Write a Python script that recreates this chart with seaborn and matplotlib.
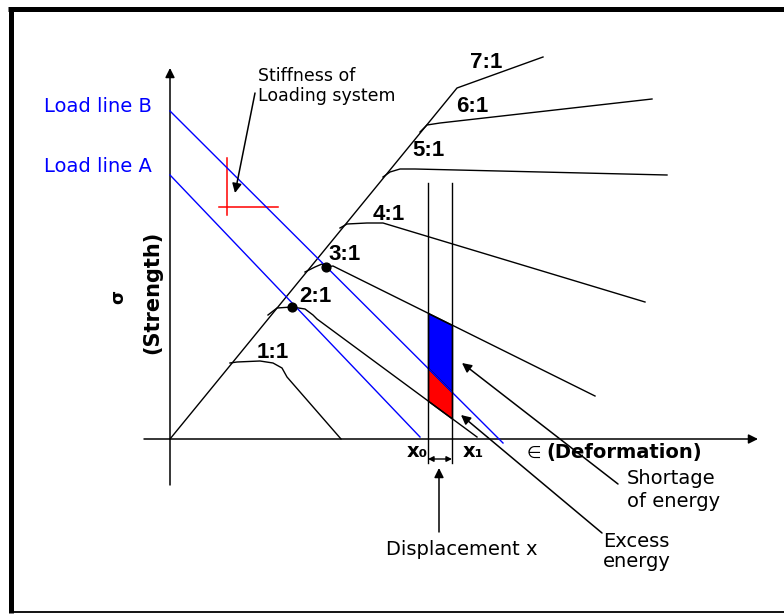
import numpy as np
import pandas as pd
import matplotlib
matplotlib.use("Agg")
import matplotlib.pyplot as plt
import seaborn as sns

# drawing units: eps = deformation, sig = strength (origin at axis crossing)
env_eps = [0, 287, 373]          # peak envelope, last segment is the 7:1 branch
env_sig = [0, 351, 382]

b11_eps = [60, 67, 90, 103, 112, 117, 171]
b11_sig = [76, 77, 78, 76, 71, 62, 0]
b21_eps = [98, 107, 122, 135, 143, 147, 307]
b21_sig = [124, 131, 132, 130, 124, 120, 2]
b31_eps = [135, 145, 152, 156, 163, 425]
b31_sig = [167, 172, 175, 172, 173, 43]
b41_eps = [170, 177, 197, 213, 475]
b41_sig = [211, 215, 216, 216, 137]
b51_eps = [213, 220, 230, 245, 497]
b51_sig = [262, 267, 270, 270, 264]
b61_eps = [250, 257, 270, 482]
b61_sig = [307, 314, 316, 340]

ratio_labels = ["1:1", "2:1", "3:1", "4:1", "5:1", "6:1", "7:1"]
ratio_eps = [103, 145, 175, 219, 258, 302, 316]
ratio_sig = [86, 143, 185, 224, 289, 332, 376]

loadA_eps = [0, 250]
loadA_sig = [264, 2]
loadB_eps = [0, 333]
loadB_sig = [328, -4]

dot_eps = [122, 156]
dot_sig = [132, 172]

x0, x1 = 258, 282

curves = {"env": (env_eps, env_sig), "1:1": (b11_eps, b11_sig),
          "2:1": (b21_eps, b21_sig), "3:1": (b31_eps, b31_sig),
          "4:1": (b41_eps, b41_sig), "5:1": (b51_eps, b51_sig),
          "6:1": (b61_eps, b61_sig)}
df = pd.concat([pd.DataFrame({"eps": e, "sig": s, "curve": k})
                for k, (e, s) in curves.items()], ignore_index=True)
loads = pd.concat([pd.DataFrame({"eps": loadA_eps, "sig": loadA_sig, "curve": "A"}),
                   pd.DataFrame({"eps": loadB_eps, "sig": loadB_sig, "curve": "B"})],
                  ignore_index=True)

fig = plt.figure(figsize=(7.84, 6.14), dpi=100)
ax = fig.add_axes([0, 0, 1, 1])

# frame
ax.plot([-159.5, -159.5], [431, -174], color="k", lw=3.6, solid_capstyle="butt")
ax.plot([-162, 614], [430.5, 430.5], color="k", lw=3.6, solid_capstyle="butt")
ax.plot([-159.5, 614], [-173.3, -173.3], color="k", lw=1.3)

# axes with arrows
arr = dict(arrowstyle="-|>", color="k", lw=1.1, mutation_scale=14, shrinkA=0, shrinkB=0)
ax.annotate("", xy=(0, 371), xytext=(0, -46), arrowprops=arr)
ax.annotate("", xy=(588, 0), xytext=(-26, 0), arrowprops=arr)

# energy areas
xs = np.linspace(x0, x1, 30)
lb = np.interp(xs, loadB_eps, loadB_sig)
top = np.interp(xs, b31_eps, b31_sig)
bot = np.interp(xs, b21_eps, b21_sig)
ax.fill_between(xs, lb, top, color="#0000ff", edgecolor="k", lw=1, zorder=2)
ax.fill_between(xs, bot, lb, color="#ff0000", edgecolor="k", lw=1, zorder=2)

sns.lineplot(data=df, x="eps", y="sig", units="curve", estimator=None, sort=False,
             color="k", lw=1.0, ax=ax, zorder=3)
sns.lineplot(data=loads, x="eps", y="sig", units="curve", estimator=None, sort=False,
             color="#0000ff", lw=1.0, ax=ax, zorder=3)
ax.scatter(dot_eps, dot_sig, s=40, color="k", zorder=4)
ax.set_xlim(-170, 614)
ax.set_ylim(-175, 439)
ax.axis("off")

# x0 / x1 verticals
for xv in (x0, x1):
    ax.plot([xv, xv], [256, -24], color="k", lw=1.0, zorder=3)
ax.annotate("", xy=(x0, -20), xytext=(x1, -20),
            arrowprops=dict(arrowstyle="<|-|>", color="k", lw=1, mutation_scale=8,
                            shrinkA=0, shrinkB=0))
ax.annotate("", xy=(269, -29), xytext=(269, -93), arrowprops=arr)

# stiffness cross
ax.plot([57, 57], [281, 224], color="#ff0000", lw=1.1)
ax.plot([49, 108], [232, 232], color="#ff0000", lw=1.1)
ax.annotate("", xy=(65, 246), xytext=(85, 346), arrowprops=arr)

# pointer arrows
ax.annotate("", xy=(292, 76), xytext=(448, -45), arrowprops=arr)
ax.annotate("", xy=(291, 24), xytext=(432, -94), arrowprops=arr)

# labels
for lab, e, s in zip(ratio_labels, ratio_eps, ratio_sig):
    ax.text(e, s, lab, ha="center", va="center", fontsize=16, fontweight="bold",
            family="Liberation Sans")

reg = dict(family="DejaVu Sans", va="baseline", ha="left")
ax.text(-126, 327, "Load line B", color="#0000ff", fontsize=14, **reg)
ax.text(-126, 267, "Load line A", color="#0000ff", fontsize=14, **reg)
ax.text(88, 358, "Stiffness of", fontsize=12.5, **reg)
ax.text(88, 338, "Loading system", fontsize=12.5, **reg)
ax.text(457, -45, "Shortage", fontsize=14, **reg)
ax.text(457, -68, "of energy", fontsize=14, **reg)
ax.text(433, -108, "Excess", fontsize=14, **reg)
ax.text(433, -128, "energy", fontsize=14, **reg)
ax.text(216, -116, "Displacement x", fontsize=14, **reg)
ax.text(357, -19, "\u2208", fontsize=12, **reg)
ax.text(376, -19, "(Deformation)", fontsize=14, fontweight="bold", **reg)
ax.text(237, -18, "x\u2080", fontsize=14, fontweight="bold", **reg)
ax.text(293, -18, "x\u2081", fontsize=14, fontweight="bold", **reg)
ax.text(-52, 142, "\u03c3", fontsize=13, fontweight="bold", rotation=90,
        ha="center", va="center", family="DejaVu Sans")
ax.text(-18, 147, "(Strength)", fontsize=15, fontweight="bold", rotation=90,
        ha="center", va="center", family="DejaVu Sans")

fig.savefig("out.png", dpi=100)
